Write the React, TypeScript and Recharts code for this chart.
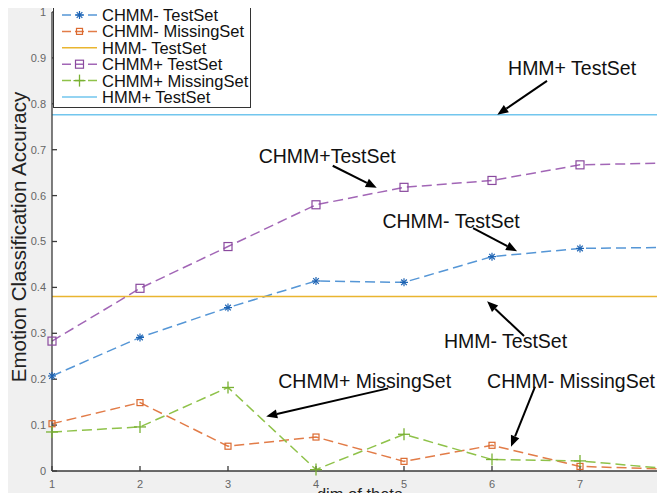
import React from 'react';
import {
  LineChart, Line, XAxis, YAxis, CartesianGrid, Legend, ReferenceLine, ReferenceDot,
} from 'recharts';

const dims = [1, 2, 3, 4, 5, 6, 7, 8];
const chmmMinusTest = [0.207, 0.291, 0.356, 0.414, 0.411, 0.467, 0.485, 0.487];
const chmmMinusMissing = [0.103, 0.149, 0.054, 0.074, 0.021, 0.056, 0.010, 0.004];
const hmmMinusTest = [0.38, 0.38, 0.38, 0.38, 0.38, 0.38, 0.38, 0.38];
const chmmPlusTest = [0.283, 0.398, 0.489, 0.580, 0.618, 0.633, 0.667, 0.671];
const chmmPlusMissing = [0.085, 0.096, 0.182, 0.003, 0.080, 0.025, 0.022, 0.005];
const hmmPlusTest = [0.776, 0.776, 0.776, 0.776, 0.776, 0.776, 0.776, 0.776];

const yTicks = [0, 0.1, 0.2, 0.3, 0.4, 0.5, 0.6, 0.7, 0.8, 0.9, 1];
const seriesNames = [
  'CHMM- TestSet', 'CHMM- MissingSet', 'HMM- TestSet',
  'CHMM+ TestSet', 'CHMM+ MissingSet', 'HMM+ TestSet',
];

// annotation text anchors and arrows, in data units (dim, accuracy)
const annotations = [
  { text: 'HMM+ TestSet', at: [6.91, 0.877], from: [6.625, 0.85], to: [6.06, 0.776] },
  { text: 'CHMM+TestSet', at: [4.127, 0.687], from: [4.19, 0.665], to: [4.69, 0.617] },
  { text: 'CHMM- TestSet', at: [5.535, 0.544], from: [5.785, 0.529], to: [6.285, 0.479] },
  { text: 'HMM- TestSet', at: [6.154, 0.284], from: [6.364, 0.294], to: [5.944, 0.37] },
  { text: 'CHMM+ MissingSet', at: [4.553, 0.197], from: [4.819, 0.18], to: [3.434, 0.119] },
  { text: 'CHMM- MissingSet', at: [6.898, 0.197], from: [6.489, 0.184], to: [6.216, 0.053] },
];

const rows = dims.map((d, i) => ({
  dim: d,
  chmmMinusTest: chmmMinusTest[i],
  chmmMinusMissing: chmmMinusMissing[i],
  hmmMinusTest: hmmMinusTest[i],
  chmmPlusTest: chmmPlusTest[i],
  chmmPlusMissing: chmmPlusMissing[i],
  hmmPlusTest: hmmPlusTest[i],
}));

const FONT = '"Liberation Sans", Arial, Helvetica, sans-serif';
const AXIS = '#3a3a3a';

const C = {
  blueLine: '#5596d6', blueMark: '#1d63b3',
  orangeLine: '#e27c48', orangeMark: '#db6a30',
  yellow: '#e9b530',
  purpleLine: '#a266b6', purpleMark: '#8a4a9e',
  greenLine: '#8fc24a', greenMark: '#79b133',
  cyan: '#72c6ee',
};

function Asterisk({ cx, cy, r, color }: any) {
  const d = r * 0.707;
  return (
    <g stroke={color} strokeWidth={1.2}>
      <line x1={cx - r} y1={cy} x2={cx + r} y2={cy} />
      <line x1={cx} y1={cy - r} x2={cx} y2={cy + r} />
      <line x1={cx - d} y1={cy - d} x2={cx + d} y2={cy + d} />
      <line x1={cx - d} y1={cy + d} x2={cx + d} y2={cy - d} />
    </g>
  );
}

function Square({ cx, cy, s, color }: any) {
  return <rect x={cx - s / 2} y={cy - s / 2} width={s} height={s} fill="none" stroke={color} strokeWidth={1.2} />;
}

function Plus({ cx, cy, r, color }: any) {
  return (
    <g stroke={color} strokeWidth={1.3}>
      <line x1={cx - r} y1={cy} x2={cx + r} y2={cy} />
      <line x1={cx} y1={cy - r} x2={cx} y2={cy + r} />
    </g>
  );
}

const starDot = (p: any) => <g key={`st${p.index}`}><Asterisk cx={p.cx} cy={p.cy} r={4} color={C.blueMark} /></g>;
const orangeDot = (p: any) => <g key={`os${p.index}`}><Square cx={p.cx} cy={p.cy} s={6} color={C.orangeMark} /></g>;
const purpleDot = (p: any) => <g key={`ps${p.index}`}><Square cx={p.cx} cy={p.cy} s={8} color={C.purpleMark} /></g>;
const plusDot = (p: any) => <g key={`gp${p.index}`}><Plus cx={p.cx} cy={p.cy} r={6} color={C.greenMark} /></g>;

const legendMarks = [
  (cx: number, cy: number) => <Asterisk cx={cx} cy={cy} r={4} color={C.blueMark} />,
  (cx: number, cy: number) => <Square cx={cx} cy={cy} s={6} color={C.orangeMark} />,
  null,
  (cx: number, cy: number) => <Square cx={cx} cy={cy} s={8} color={C.purpleMark} />,
  (cx: number, cy: number) => <Plus cx={cx} cy={cy} r={6} color={C.greenMark} />,
  null,
];
const legendColors = [C.blueLine, C.orangeLine, C.yellow, C.purpleLine, C.greenLine, C.cyan];
const legendDashed = [true, true, false, true, true, false];

function LegendBox() {
  return (
    <svg width={198} height={110} style={{ display: 'block' }}>
      <rect x={0.5} y={0.5} width={197} height={109} fill="#fff" stroke="#333" strokeWidth={1} />
      {seriesNames.map((name, i) => {
        const cy = 17 + i * 16.4;
        const mark = legendMarks[i];
        return (
          <g key={name}>
            <line x1={9} y1={cy} x2={44} y2={cy} stroke={legendColors[i]} strokeWidth={1.5}
              strokeDasharray={legendDashed[i] ? '9 4' : undefined} />
            {mark ? mark(26.5, cy) : null}
            <text x={49} y={cy} dominantBaseline="central" fontFamily={FONT} fontSize={16.5} fill="#111">{name}</text>
          </g>
        );
      })}
    </svg>
  );
}

function ArrowShape(p: any) {
  const { x1, y1, x2, y2 } = p;
  const ang = Math.atan2(y2 - y1, x2 - x1);
  const L = 11, W = 4.5;
  const bx = x2 - L * Math.cos(ang);
  const by = y2 - L * Math.sin(ang);
  const s = Math.sin(ang), c = Math.cos(ang);
  return (
    <g>
      <line x1={x1} y1={y1} x2={bx} y2={by} stroke="#000" strokeWidth={2} />
      <polygon points={`${x2},${y2} ${bx + W * s},${by - W * c} ${bx - W * s},${by + W * c}`} fill="#000" />
    </g>
  );
}

export default function App() {
  return (
    <div style={{ margin: -8, width: 665, height: 501, overflow: 'hidden', position: 'relative', background: '#fff' }}>
      <div style={{ position: 'absolute', left: 8, top: 0, width: 44, height: 501, background: '#f0f0f0' }} />
      <div style={{ position: 'absolute', left: 8, top: 471, width: 657, height: 30, background: '#f0f0f0' }} />
      <div style={{ position: 'absolute', left: 0, top: 0 }}>
        <LineChart width={700} height={501} data={rows} margin={{ top: 12, right: 32, bottom: 0, left: 0 }}>
          <CartesianGrid horizontal={false} vertical={false} fill="#fff" />
          <XAxis dataKey="dim" type="number" domain={[1, 8]} ticks={dims} height={30}
            tickSize={-5} tickMargin={14} stroke={AXIS} strokeWidth={1.3}
            tick={{ fill: '#666', fontSize: 11, fontFamily: FONT }}
            label={{
              content: () => (
                <text x={360} y={500} textAnchor="middle" fontFamily={FONT} fontSize={16.5} fill="#222">dim of theta</text>
              ),
            }} />
          <XAxis xAxisId="top" orientation="top" type="number" domain={[1, 8]} ticks={dims} height={0}
            tickSize={-5} tick={false} stroke={AXIS} />
          <YAxis type="number" domain={[0, 1]} ticks={yTicks} width={52}
            tickSize={-5} tickMargin={11} stroke={AXIS} strokeWidth={1.3}
            tick={{ fill: '#666', fontSize: 11, fontFamily: FONT }}
            label={{
              content: () => (
                <text transform="translate(18,237) rotate(-90)" textAnchor="middle" dominantBaseline="central"
                  fontFamily={FONT} fontSize={20.5} fill="#222">Emotion Classification Accuracy</text>
              ),
            }} />
          <YAxis yAxisId="right" orientation="right" type="number" domain={[0, 1]} ticks={yTicks} width={0}
            tickSize={-5} tick={false} stroke={AXIS} />
          <Legend layout="horizontal" verticalAlign="middle" align="center" content={() => <LegendBox />}
            wrapperStyle={{ position: 'absolute', left: 53, top: -2, width: 198, height: 110 }} />

          <Line dataKey="chmmMinusTest" name={seriesNames[0]} stroke={C.blueLine} strokeWidth={1.5}
            strokeDasharray="10 5" dot={starDot} activeDot={false} isAnimationActive={false} />
          <Line dataKey="chmmMinusMissing" name={seriesNames[1]} stroke={C.orangeLine} strokeWidth={1.5}
            strokeDasharray="10 5" dot={orangeDot} activeDot={false} isAnimationActive={false} />
          <Line dataKey="hmmMinusTest" name={seriesNames[2]} stroke={C.yellow} strokeWidth={1.5}
            dot={false} activeDot={false} isAnimationActive={false} />
          <Line dataKey="chmmPlusTest" name={seriesNames[3]} stroke={C.purpleLine} strokeWidth={1.5}
            strokeDasharray="10 5" dot={purpleDot} activeDot={false} isAnimationActive={false} />
          <Line dataKey="chmmPlusMissing" name={seriesNames[4]} stroke={C.greenLine} strokeWidth={1.5}
            strokeDasharray="10 5" dot={plusDot} activeDot={false} isAnimationActive={false} />
          <Line dataKey="hmmPlusTest" name={seriesNames[5]} stroke={C.cyan} strokeWidth={1.5}
            dot={false} activeDot={false} isAnimationActive={false} />

          {annotations.map((a) => (
            <ReferenceLine key={`al-${a.text}`} ifOverflow="visible"
              segment={[{ x: a.from[0], y: a.from[1] }, { x: a.to[0], y: a.to[1] }]}
              shape={ArrowShape} />
          ))}
          {annotations.map((a) => (
            <ReferenceDot key={`at-${a.text}`} x={a.at[0]} y={a.at[1]} ifOverflow="visible"
              shape={(p: any) => (
                <text x={p.cx} y={p.cy} textAnchor="middle" dominantBaseline="central"
                  fontFamily={FONT} fontSize={19.5} fill="#111">{a.text}</text>
              )} />
          ))}
        </LineChart>
      </div>
    </div>
  );
}
